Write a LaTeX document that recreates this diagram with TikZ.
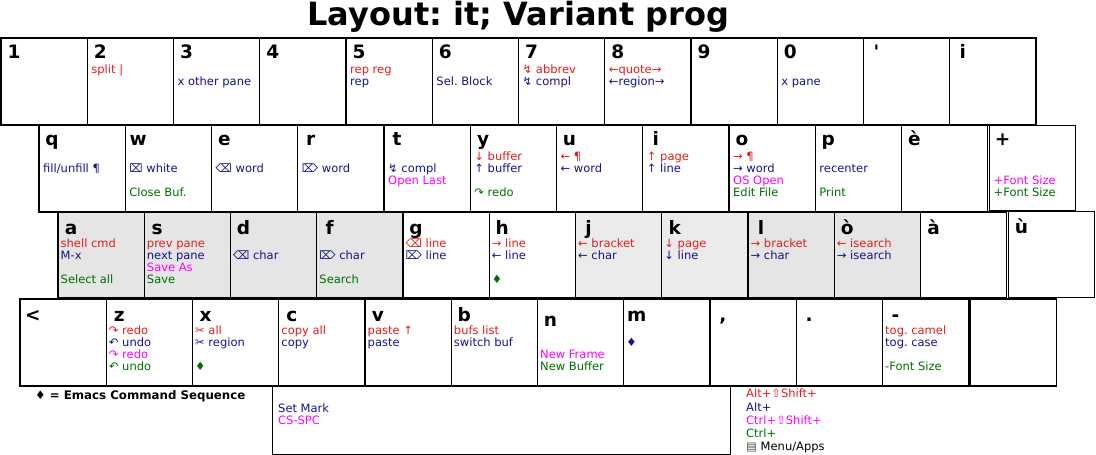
\documentclass[tikz,border=0pt]{standalone}
\usepackage{fontspec}
\setmainfont{DejaVu Sans}[Ligatures=TeXOff]
\frenchspacing
\usetikzlibrary{calc}
\definecolor{cr}{RGB}{225,30,30}
\definecolor{cb}{RGB}{20,20,140}
\definecolor{cm}{RGB}{255,0,255}
\definecolor{cg}{RGB}{0,110,0}
\tikzset{
 keybox/.style={draw=black, line width=1.3pt, fill=white, minimum width=86.25pt, minimum height=87pt, inner sep=0pt, outer sep=0pt, anchor=north west},
 keyletter/.style={anchor=base, inner sep=0pt, font=\fontsize{18.5}{20}\selectfont\bfseries},
 lbl/.style={anchor=base west, inner sep=0pt, font=\fontsize{11.5}{12}\selectfont},
 graykey/.style={fill=gray!20},
 lightkey/.style={fill=gray!16},
 shortkey/.style={minimum height=86pt},
}
\newcommand\lbx{4}
\newcommand\lbline[5]{\if\relax\detokenize{#5}\relax\else\node[lbl,text=#3] (#1-#2) at ($(#1.north west)+(\lbx,#4)$) {#5};\fi}
% #1 opts, #2 name, #3 (x,y), #4 letter, #5 letter baseline offset, #6 red, #7 blue, #8 magenta, #9 green
\newcommand\kb[9]{%
 \node[keybox,#1] (#2) at #3 {};
 \node[keyletter] (#2-k) at ($(#2.north west)+(13,#5)$) {#4};
 \lbline{#2}{r}{cr}{35}{#6}%
 \lbline{#2}{b}{cb}{47}{#7}%
 \lbline{#2}{m}{cm}{59}{#8}%
 \lbline{#2}{g}{cg}{71}{#9}%
}
\begin{document}
\begin{tikzpicture}[x=1pt,y=-1pt]
\useasboundingbox (0,0) rectangle (1096,455);
\node[anchor=base, inner sep=0pt, font=\fontsize{32}{34}\selectfont\bfseries] (title) at (518.5,25) {Layout: it; Variant prog};
% row 1
\kb{}{k1}{(1,38)}{1}{20}{}{}{}{}
\kb{}{k2}{(87.25,38)}{2}{20}{split |}{}{}{}
\kb{}{k3}{(173.5,38)}{3}{20}{}{x other pane}{}{}
\kb{}{k4}{(259.75,38)}{4}{20}{}{}{}{}
\kb{}{k5}{(346,38)}{5}{20}{rep reg}{rep}{}{}
\kb{}{k6}{(432.25,38)}{6}{20}{}{Sel. Block}{}{}
\kb{}{k7}{(518.5,38)}{7}{20}{↯ abbrev}{↯ compl}{}{}
\kb{}{k8}{(604.75,38)}{8}{20}{←quote→}{←region→}{}{}
\kb{}{k9}{(691,38)}{9}{20}{}{}{}{}
\kb{}{k0}{(777.25,38)}{0}{20}{}{x pane}{}{}
\kb{}{kap}{(863.5,38)}{'}{20}{}{}{}{}
\kb{}{kii}{(949.75,38)}{i}{20}{}{}{}{}
% row 2
\kb{}{kq}{(39,125)}{q}{20}{}{fill/unfill ¶}{}{}
\kb{}{kw}{(125.25,125)}{w}{20}{}{⌧ white}{}{Close Buf.}
\kb{}{ke}{(211.5,125)}{e}{20}{}{⌫ word}{}{}
\kb{}{kr}{(297.75,125)}{r}{20}{}{⌦ word}{}{}
\kb{}{kt}{(384,125)}{t}{20}{}{↯ compl}{Open Last}{}
\kb{}{ky}{(470.25,125)}{y}{20}{↓ buffer}{↑ buffer}{}{↷ redo}
\kb{}{ku}{(556.5,125)}{u}{20}{← ¶}{← word}{}{}
\kb{}{ki}{(642.75,125)}{i}{20}{↑ page}{↑ line}{}{}
\kb{}{ko}{(729,125)}{o}{20}{→ ¶}{→ word}{OS Open}{Edit File}
\kb{}{kp}{(815.25,125)}{p}{20}{}{recenter}{}{Print}
\kb{}{kegrave}{(901.5,125)}{è}{20}{}{}{}{}
\kb{minimum height=85.5pt}{kplus}{(989.5,125.5)}{+}{20}{}{}{+Font Size}{+Font Size}
% row 3
\renewcommand\lbx{2.5}
\kb{shortkey,graykey}{ka}{(58,212)}{a}{22}{shell cmd}{M-x}{}{Select all}
\kb{shortkey,graykey}{ks}{(144.25,212)}{s}{22}{prev pane}{next pane}{Save As}{Save}
\kb{shortkey,graykey}{kd}{(230.5,212)}{d}{22}{}{⌫ char}{}{}
\kb{shortkey,graykey}{kf}{(316.75,212)}{f}{22}{}{⌦ char}{}{Search}
\kb{shortkey}{kg}{(403,212)}{g}{22}{⌫ line}{⌦ line}{}{}
\kb{shortkey}{kh}{(489.25,212)}{h}{22}{→ line}{← line}{}{♦}
\kb{shortkey,lightkey}{kj}{(575.5,212)}{j}{22}{← bracket}{← char}{}{}
\kb{shortkey,lightkey}{kk}{(661.75,212)}{k}{22}{↓ page}{↓ line}{}{}
\kb{shortkey,graykey}{kl}{(748,212)}{l}{22}{→ bracket}{→ char}{}{}
\kb{shortkey,graykey}{kograve}{(834.25,212)}{ò}{22}{← isearch}{→ isearch}{}{}
\kb{shortkey}{kagrave}{(920.5,212)}{à}{22}{}{}{}{}
\kb{shortkey}{kugrave}{(1008.5,211.5)}{ù}{22}{}{}{}{}
% row 4
\kb{}{klt}{(20,299)}{<}{22}{}{}{}{}
\kb{}{kz}{(106.25,299)}{z}{22}{↷ redo}{↶ undo}{↷ redo}{↶ undo}
\kb{}{kx}{(192.5,299)}{x}{22}{✂ all}{✂ region}{}{♦}
\kb{}{kc}{(278.75,299)}{c}{22}{copy all}{copy}{}{}
\kb{}{kv}{(365,299)}{v}{22}{paste ↑}{paste}{}{}
\kb{}{kb}{(451.25,299)}{b}{22}{bufs list}{switch buf}{}{}
\kb{}{kn}{(537.5,299)}{n}{27}{}{}{New Frame}{New Buffer}
\kb{}{km}{(623.75,299)}{m}{22}{}{♦}{}{}
\kb{}{kcomma}{(710,299)}{,}{22}{}{}{}{}
\kb{}{kdot}{(796.25,299)}{.}{22}{}{}{}{}
\kb{}{kminus}{(882.5,299)}{-}{22}{tog. camel}{tog. case}{}{-Font Size}
\kb{}{kblank}{(970,299)}{}{22}{}{}{}{}
% space bar
\node[draw=black, line width=1pt, minimum width=458pt, minimum height=68pt, inner sep=0pt, outer sep=0pt, anchor=north west] (space) at (272,386) {};
\node[lbl, text=cb] (space-b) at ($(space.north west)+(6,26)$) {Set Mark};
\node[lbl, text=cm] (space-m) at ($(space.north west)+(6,38)$) {CS-SPC};
% legends
\node[lbl, font=\fontsize{11.8}{12}\selectfont\bfseries] (ecs) at (35,399) {♦ = Emacs Command Sequence};
\node[lbl, text=cr] (leg1) at (746,397) {Alt+⇧Shift+};
\node[lbl, text=cb] (leg2) at (746,411) {Alt+};
\node[lbl, text=cm] (leg3) at (746,424) {Ctrl+⇧Shift+};
\node[lbl, text=cg] (leg4) at (746,437) {Ctrl+};
\node[lbl] (leg5) at (746,450) {{\color{black!70}▤} Menu/Apps};
\end{tikzpicture}
\end{document}
